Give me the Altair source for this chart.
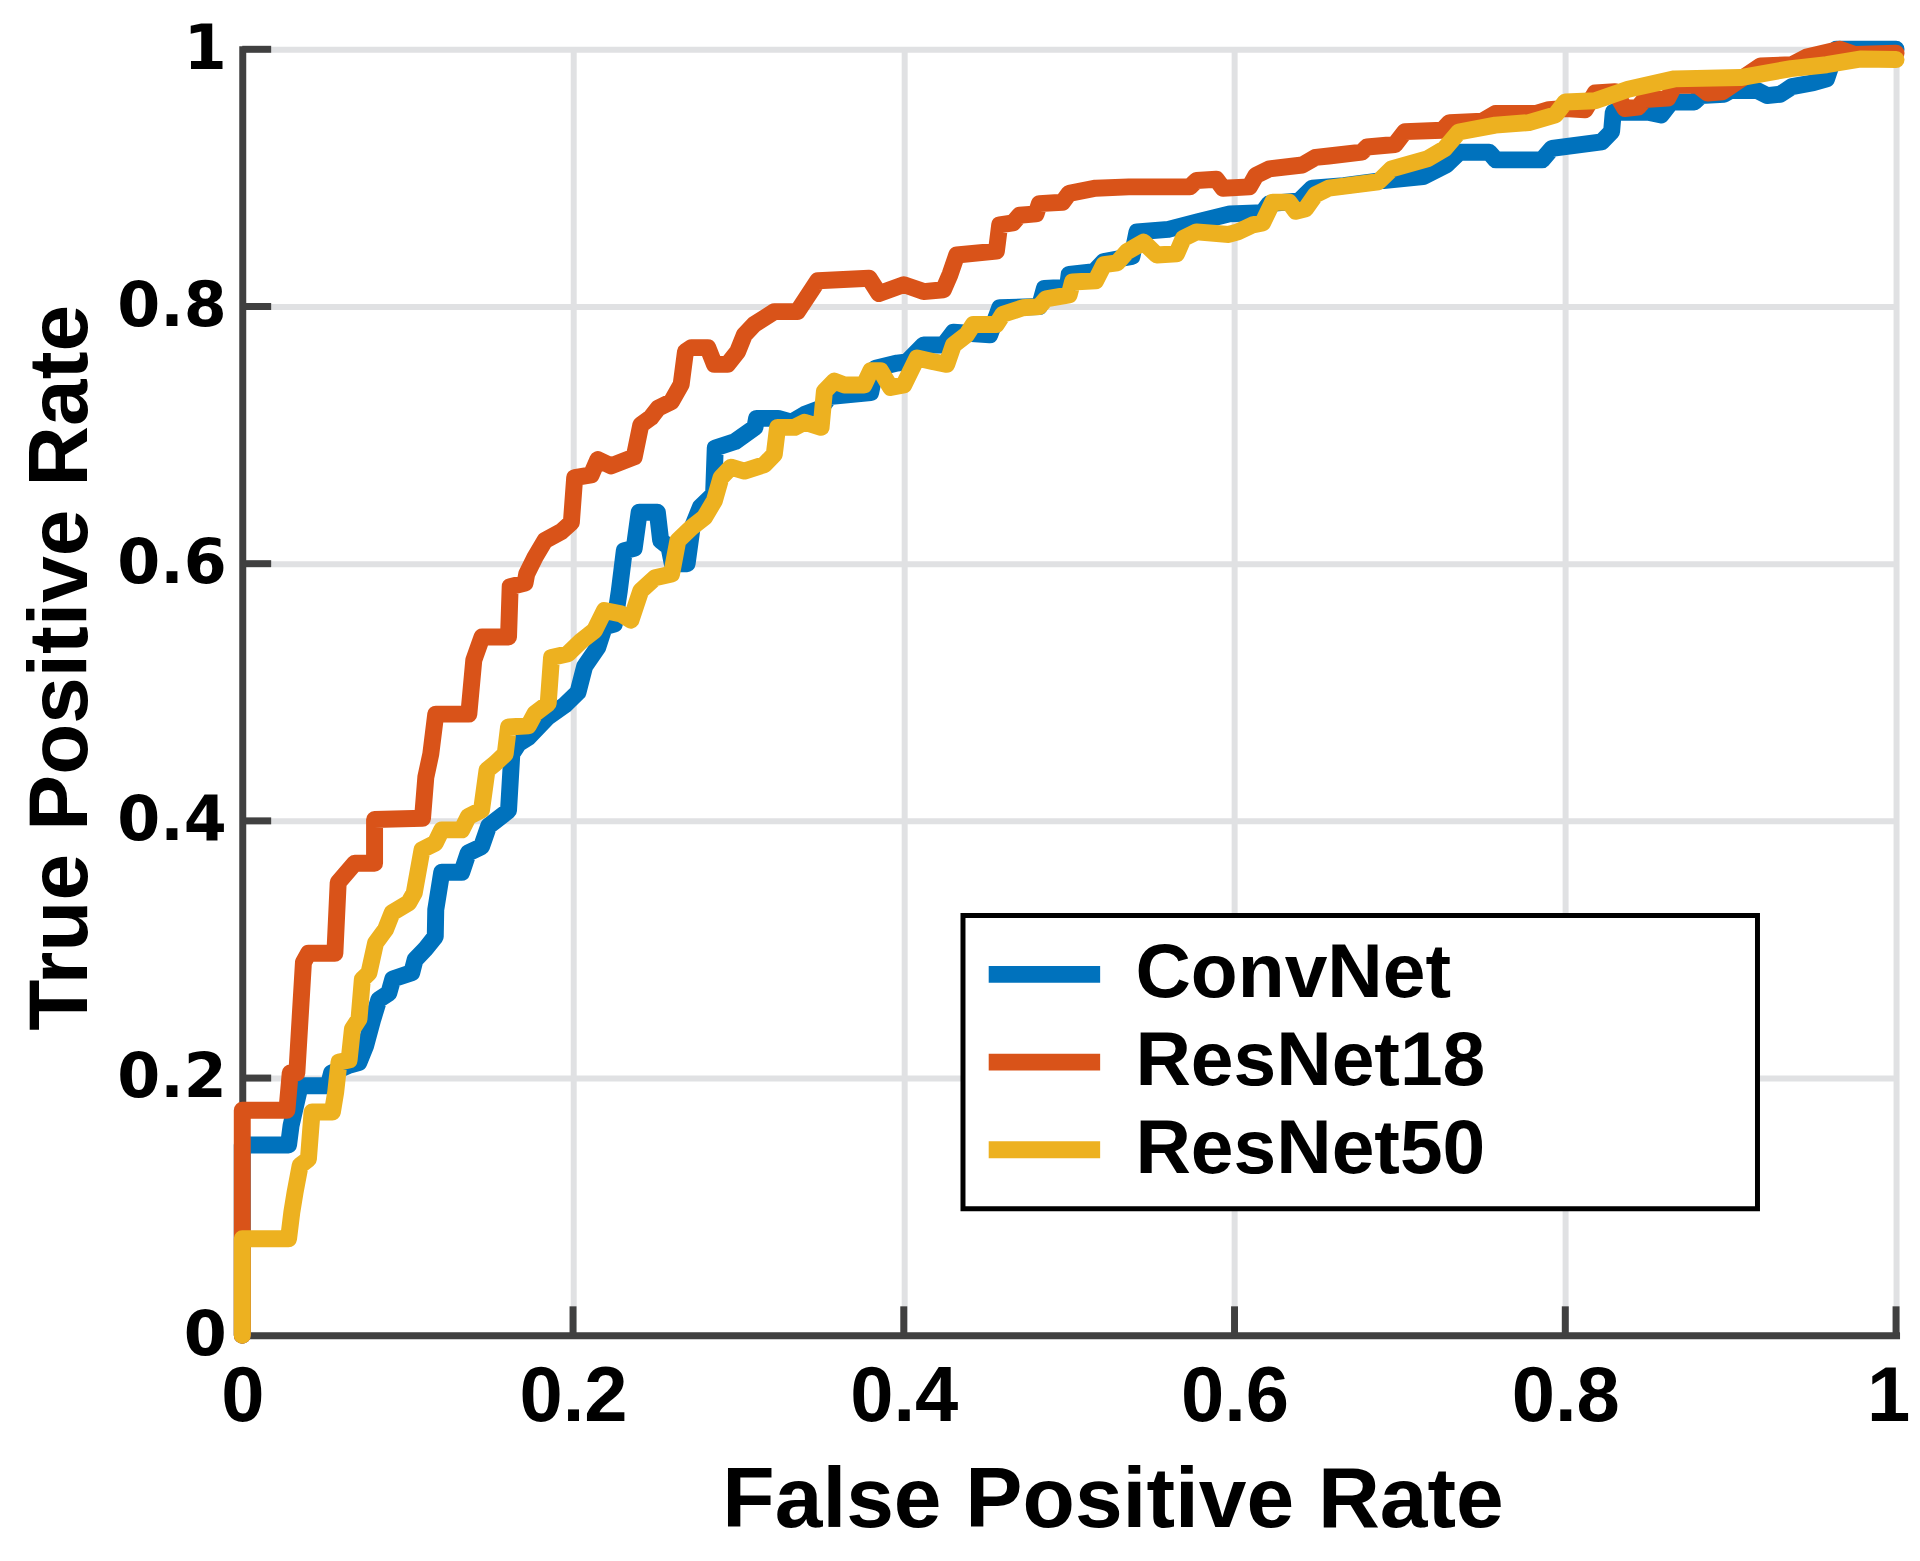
import altair as alt
import pandas as pd

models = ["ConvNet", "ResNet18", "ResNet50"]
colors = ["#0072BD", "#D95319", "#EDB120"]
tick_values = [0, 0.2, 0.4, 0.6, 0.8, 1]
inner_ticks = [0.2, 0.4, 0.6, 0.8, 1]

convnet_fpr = [0, 0, 0.028, 0.0295, 0.035, 0.052, 0.054, 0.0645, 0.0705, 0.0746, 0.079, 0.0826, 0.0886, 0.091,
               0.1025, 0.1045, 0.1105, 0.1167, 0.117, 0.1206, 0.1327, 0.1366, 0.1447, 0.149, 0.161, 0.163, 0.167,
               0.173, 0.185, 0.195, 0.203, 0.207, 0.215, 0.219, 0.225, 0.228, 0.231, 0.237, 0.240, 0.251, 0.253,
               0.258, 0.260, 0.269, 0.272, 0.277, 0.285, 0.286, 0.298, 0.310, 0.311, 0.324, 0.332, 0.340, 0.350,
               0.355, 0.380, 0.383, 0.396, 0.402, 0.412, 0.424, 0.430, 0.452, 0.458, 0.482, 0.485, 0.499, 0.500,
               0.515, 0.521, 0.538, 0.541, 0.560, 0.578, 0.597, 0.617, 0.621, 0.639, 0.647, 0.666, 0.690, 0.714,
               0.728, 0.736, 0.754, 0.758, 0.786, 0.792, 0.822, 0.828, 0.829, 0.850, 0.858, 0.864, 0.878, 0.882,
               0.896, 0.900, 0.916, 0.922, 0.930, 0.937, 0.950, 0.958, 0.964, 1.0]
convnet_tpr = [0, 0.148, 0.148, 0.163, 0.194, 0.194, 0.204, 0.21, 0.212, 0.225, 0.246, 0.261, 0.266, 0.277,
               0.282, 0.292, 0.300, 0.310, 0.331, 0.360, 0.360, 0.375, 0.380, 0.396, 0.408, 0.452, 0.460,
               0.465, 0.481, 0.490, 0.500, 0.520, 0.535, 0.551, 0.553, 0.579, 0.610, 0.612, 0.640, 0.640, 0.618,
               0.613, 0.600, 0.600, 0.628, 0.644, 0.654, 0.690, 0.695, 0.706, 0.713, 0.713, 0.710, 0.716, 0.721,
               0.730, 0.733, 0.752, 0.756, 0.757, 0.770, 0.770, 0.780, 0.778, 0.799, 0.800, 0.814, 0.815, 0.825,
               0.827, 0.835, 0.839, 0.858, 0.860, 0.866, 0.872, 0.873, 0.880, 0.882, 0.892, 0.894, 0.898, 0.901,
               0.910, 0.920, 0.920, 0.914, 0.914, 0.923, 0.928, 0.936, 0.951, 0.951, 0.949, 0.959, 0.959, 0.964,
               0.965, 0.968, 0.968, 0.964, 0.965, 0.971, 0.974, 0.977, 1.0, 1.0]

resnet18_fpr = [0, 0, 0.027, 0.029, 0.033, 0.037, 0.040, 0.056, 0.058, 0.068, 0.080, 0.080, 0.109, 0.111, 0.114,
                0.117, 0.137, 0.140, 0.145, 0.161, 0.162, 0.171, 0.172, 0.177, 0.183, 0.193, 0.199, 0.201, 0.211,
                0.215, 0.223, 0.237, 0.241, 0.247, 0.2515, 0.2595, 0.2654, 0.268, 0.2716, 0.2815, 0.2855, 0.2935,
                0.2996, 0.3036, 0.3096, 0.3217, 0.3357, 0.348, 0.379, 0.385, 0.400, 0.412, 0.424, 0.428, 0.432,
                0.456, 0.458, 0.466, 0.470, 0.480, 0.482, 0.496, 0.500, 0.516, 0.536, 0.573, 0.577, 0.589, 0.593,
                0.609, 0.613, 0.621, 0.641, 0.649, 0.657, 0.677, 0.680, 0.697, 0.703, 0.7256, 0.730, 0.7497,
                0.7577, 0.782, 0.790, 0.800, 0.812, 0.818, 0.830, 0.836, 0.844, 0.848, 0.862, 0.866, 0.880, 0.886,
                0.895, 0.918, 0.937, 0.946, 0.966, 0.975, 1.0]
resnet18_tpr = [0, 0.175, 0.175, 0.204, 0.204, 0.29, 0.297, 0.297, 0.352, 0.367, 0.367, 0.401, 0.402, 0.434, 0.452,
                0.483, 0.483, 0.525, 0.543, 0.543, 0.582, 0.585, 0.592, 0.605, 0.618, 0.625, 0.632, 0.667, 0.669,
                0.681, 0.676, 0.683, 0.708, 0.7135, 0.721, 0.726, 0.7395, 0.765, 0.768, 0.768, 0.755, 0.755,
                0.765, 0.778, 0.786, 0.796, 0.796, 0.820, 0.822, 0.810, 0.817, 0.8116, 0.813, 0.825, 0.840,
                0.843, 0.8635, 0.865, 0.871, 0.872, 0.880, 0.881, 0.888, 0.892, 0.893, 0.893, 0.898, 0.899, 0.892,
                0.893, 0.902, 0.907, 0.910, 0.916, 0.917, 0.920, 0.924, 0.926, 0.936, 0.937, 0.943, 0.944,
                0.950, 0.950, 0.953, 0.954, 0.953, 0.966, 0.967, 0.954, 0.955, 0.961, 0.962, 0.972, 0.972, 0.966,
                0.967, 0.987, 0.988, 0.994, 1.0, 0.996, 0.997]

resnet50_fpr = [0, 0, 0.028, 0.030, 0.032, 0.035, 0.040, 0.0422, 0.0545, 0.0565, 0.0585, 0.0646, 0.0666, 0.0706,
                0.0726, 0.0766, 0.0806, 0.0866, 0.0906, 0.1007, 0.104, 0.1087, 0.1167, 0.1206, 0.1327, 0.1367,
                0.1447, 0.148, 0.153, 0.159, 0.161, 0.173, 0.177, 0.185, 0.187, 0.197, 0.205, 0.213, 0.219, 0.229,
                0.235, 0.241, 0.2496, 0.2596, 0.2634, 0.2716, 0.2795, 0.2855, 0.2895, 0.2955, 0.3036, 0.3157,
                0.3217, 0.3237, 0.334, 0.340, 0.350, 0.352, 0.358, 0.364, 0.376, 0.380, 0.386, 0.392, 0.400,
                0.408, 0.418, 0.426, 0.430, 0.438, 0.442, 0.456, 0.460, 0.472, 0.482, 0.486, 0.500, 0.502, 0.516,
                0.521, 0.529, 0.535, 0.545, 0.553, 0.565, 0.569, 0.577, 0.5965, 0.602, 0.611, 0.617, 0.623, 0.633,
                0.637, 0.643, 0.649, 0.657, 0.687, 0.695, 0.717, 0.727, 0.7356, 0.7577, 0.778, 0.794, 0.800,
                0.818, 0.838, 0.866, 0.906, 0.9365, 0.958, 0.979, 1.0]
resnet50_tpr = [0, 0.075, 0.075, 0.096, 0.1116, 0.132, 0.137, 0.1736, 0.1736, 0.189, 0.2124, 0.214, 0.238, 0.246,
                0.2767, 0.2817, 0.305, 0.3155, 0.3285, 0.3364, 0.344, 0.3775, 0.3827, 0.393, 0.393, 0.4033,
                0.4085, 0.4395, 0.4447, 0.452, 0.473, 0.474, 0.4835, 0.4913, 0.527, 0.530, 0.540, 0.548, 0.5636,
                0.561, 0.556, 0.579, 0.589, 0.592, 0.618, 0.628, 0.636, 0.649, 0.667, 0.675, 0.672, 0.677,
                0.685, 0.706, 0.706, 0.710, 0.706, 0.734, 0.742, 0.739, 0.739, 0.750, 0.750, 0.737, 0.739,
                0.760, 0.757, 0.755, 0.770, 0.778, 0.786, 0.786, 0.794, 0.799, 0.800, 0.806, 0.809, 0.819, 0.820,
                0.8325, 0.834, 0.8426, 0.850, 0.840, 0.841, 0.853, 0.858, 0.856, 0.858, 0.8635, 0.865, 0.881,
                0.881, 0.874, 0.876, 0.887, 0.892, 0.897, 0.907, 0.915, 0.9227, 0.9357, 0.941, 0.943, 0.949,
                0.959, 0.960, 0.969, 0.977, 0.978, 0.985, 0.988, 0.9925, 0.992]

series = {
    "ConvNet": (convnet_fpr, convnet_tpr),
    "ResNet18": (resnet18_fpr, resnet18_tpr),
    "ResNet50": (resnet50_fpr, resnet50_tpr),
}
rows = []
for m in models:
    fx, ty = series[m]
    for i, (a, b) in enumerate(zip(fx, ty)):
        rows.append({"model": m, "fpr": a, "tpr": b, "i": i})
df = pd.DataFrame(rows)

W, H = 1659, 1290
AXIS_COLOR = "#404040"
GRID_COLOR = "#e0e1e3"
LINE_W = 17

xs = alt.Scale(domain=[0, 1], nice=False, zero=False)
ys = alt.Scale(domain=[0, 1], nice=False, zero=False)

xaxis = alt.Axis(
    values=tick_values, format="~g", title="False Positive Rate",
    grid=True, gridColor=GRID_COLOR, gridWidth=6,
    domain=True, domainColor=AXIS_COLOR, domainWidth=7, domainCap="square",
    ticks=False, tickSize=0,
    labelFont="Liberation Sans", labelFontSize=78, labelFontWeight="bold", labelColor="black",
    labelPadding=24, labelFlush=False,
    labelOffset={"condition": {"test": "datum.value == 1", "value": -8}, "value": 0},
    titleFont="Liberation Sans", titleFontSize=86, titleFontWeight="bold", titleColor="black",
    titleX=873, titleY=192, titleAlign="center", titleBaseline="alphabetic",
)
yaxis = alt.Axis(
    values=tick_values, format="~g", title="True Positive Rate",
    grid=True, gridColor=GRID_COLOR, gridWidth=6,
    domain=True, domainColor=AXIS_COLOR, domainWidth=7, domainCap="square",
    ticks=False, tickSize=0,
    labelFont="DejaVu Sans", labelFontSize=62, labelFontWeight="bold", labelColor="black",
    labelPadding=16, labelFlush=False,
    titleFont="Liberation Sans", titleFontSize=84, titleFontWeight="bold", titleColor="black",
    titleAngle=270, titleX=-156, titleY=620, titleAlign="center", titleBaseline="alphabetic",
)

# trailing non-breaking spaces widen the legend box like the reference; the
# final zero-width space keeps them from being trimmed
pad = "\u00a0" * 12 + "\u200b"
legend = alt.Legend(
    orient="none", legendX=723, legendY=869, title=None,
    fillColor="white", strokeColor="black", padding=16, cornerRadius=0,
    symbolType="M-0.97,0L1.63,0", symbolSize=7396, symbolStrokeWidth=LINE_W, symbolOffset=0,
    clipHeight=86, rowPadding=2,
    labelFont="Liberation Sans", labelFontSize=77, labelFontWeight="bold", labelColor="black",
    labelOffset=54, labelLimit=2000,
    labelExpr=f"datum.label + '{pad}'",
)

color = alt.Color("model:N", scale=alt.Scale(domain=models, range=colors), legend=legend)

xtick_df = pd.DataFrame({"fpr": inner_ticks})
ytick_df = pd.DataFrame({"tpr": inner_ticks})

xticks = alt.Chart(xtick_df).mark_rule(color=AXIS_COLOR, strokeWidth=7).encode(
    x=alt.X("fpr:Q", scale=xs, axis=xaxis),
    y=alt.value(H), y2=alt.value(H - 29),
)
yticks = alt.Chart(ytick_df).mark_rule(color=AXIS_COLOR, strokeWidth=7).encode(
    y=alt.Y("tpr:Q", scale=ys, axis=yaxis),
    x=alt.value(0), x2=alt.value(29),
)

lines = []
for m in models:
    lines.append(
        alt.Chart(df).transform_filter(alt.datum.model == m).mark_line(
            strokeWidth=LINE_W, strokeJoin="round", strokeCap="round", clip=False
        ).encode(
            x=alt.X("fpr:Q", scale=xs, axis=xaxis),
            y=alt.Y("tpr:Q", scale=ys, axis=yaxis),
            color=color,
            order=alt.Order("i:Q"),
        )
    )

chart = alt.layer(xticks, yticks, *lines).properties(
    width=W, height=H,
    autosize=alt.AutoSizeParams(type="none"),
    padding={"left": 235, "top": 39, "right": 16, "bottom": 210},
    background="white",
).configure_view(strokeWidth=0).configure_legend(strokeWidth=5)

chart.save("out.html", embed_options={"renderer": "svg", "actions": False})
